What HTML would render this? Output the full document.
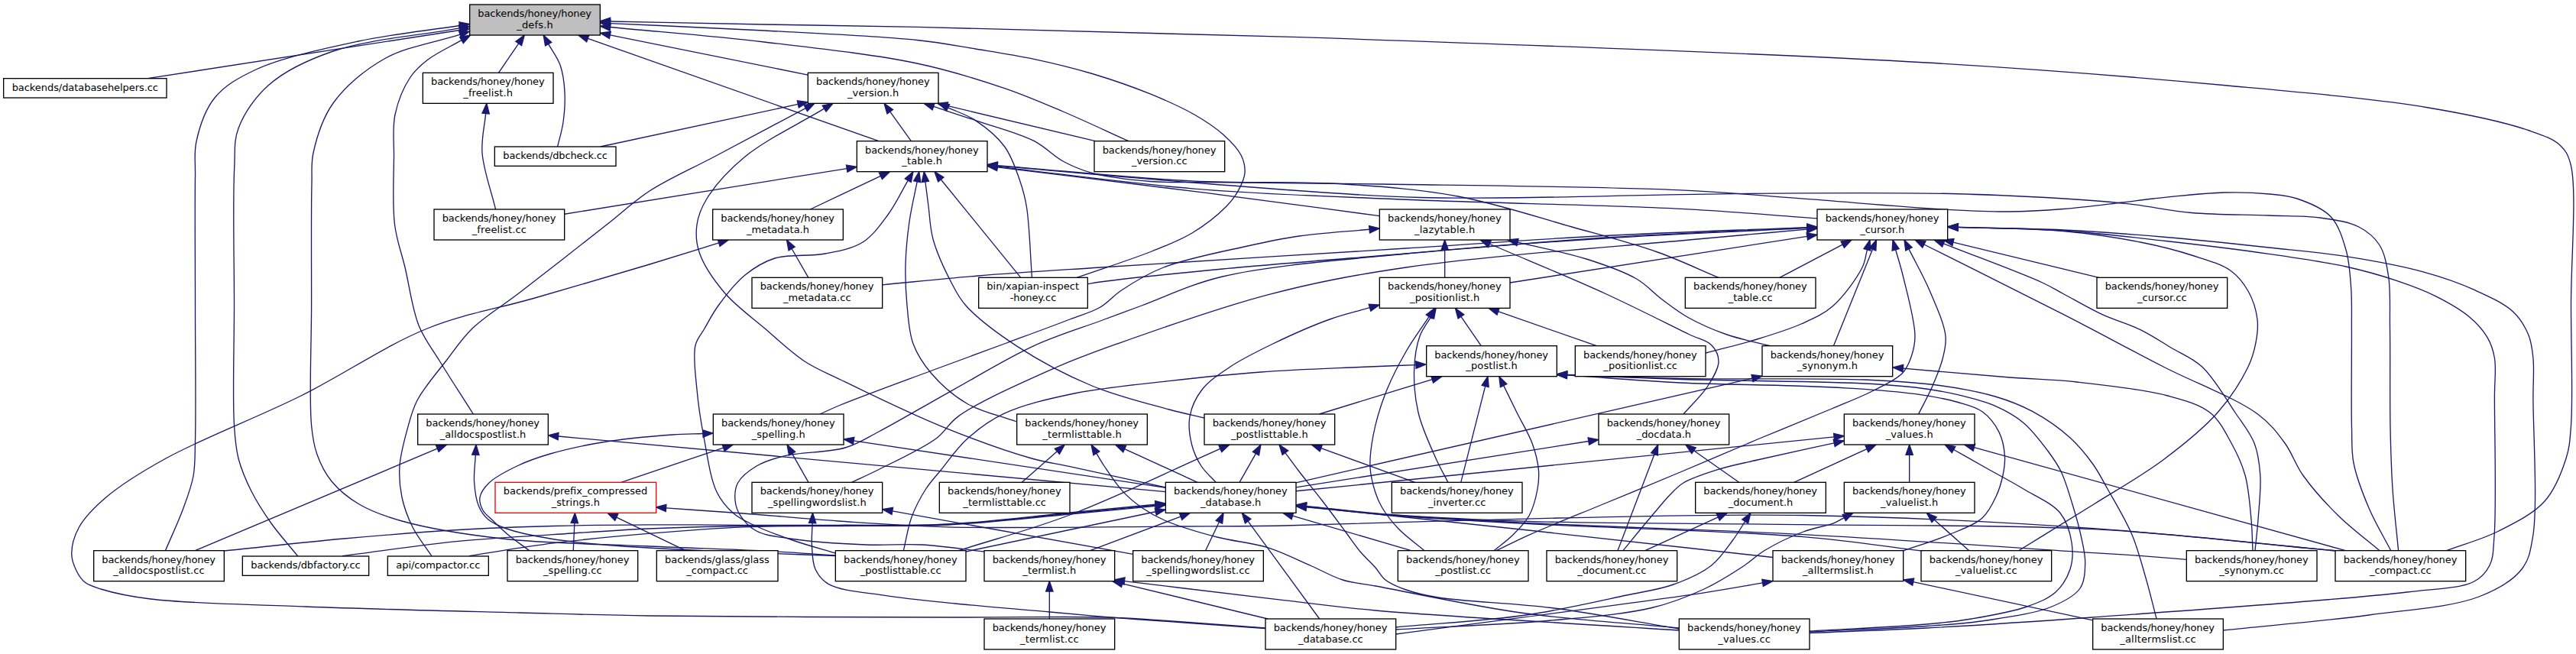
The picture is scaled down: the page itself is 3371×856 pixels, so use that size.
<!DOCTYPE html>
<html><head><meta charset="utf-8"><title>backends/honey/honey_defs.h</title>
<style>html,body{margin:0;padding:0;background:#fff}svg{display:block}text{font-family:"DejaVu Sans","Liberation Sans",sans-serif;font-size:13px;fill:#000}.e{fill:none;stroke:#191970;stroke-width:1.33}.a{fill:#191970;stroke:#191970;stroke-width:1.33}.n{fill:#fff;stroke:#000;stroke-width:1.33}</style></head>
<body><svg width="3371" height="856" viewBox="0 0 3371 856">
<rect width="3371" height="856" fill="#fff"/>
<g><path class="e" d="M717.68,57.61C722.79,66.74 729.46,74.98 733,85C736.77,95.66 738.27,107.9 739,120C739.77,132.85 738.75,147.48 737,160C735.42,171.34 732.06,181.33 729.6,192"/><polygon class="a" points="711.19,46 721.75,55.33 713.6,59.89"/>
<path class="e" d="M798.57,35.53C865.71,42.02 933.06,47.08 1000,55C1066.87,62.91 1142.9,70.95 1200,83C1243.88,92.26 1280.61,104 1314.7,115.6C1342.99,125.23 1364.93,134.95 1391,146C1418.94,157.84 1448.33,171.8 1477,184.7"/><polygon class="a" points="785.33,34.25 799.02,30.88 798.12,40.18"/>
<path class="e" d="M798.62,30.6C865.75,33.73 933,36.34 1000,40C1066.8,43.65 1149.14,47.1 1200,52.5C1231.6,55.86 1251.02,59.87 1276.5,64C1302.02,68.14 1327.61,71.91 1353,77.3C1378.58,82.73 1404.1,88.92 1429.4,96.5C1455.04,104.19 1482.4,113.66 1505.8,123.2C1526.48,131.63 1546.19,140.31 1563,150C1577.47,158.34 1590.75,167.06 1601.4,176.7C1610.65,185.07 1619.81,194.32 1624.3,203.5C1627.95,210.97 1629.57,218.84 1629,226.4C1628.41,234.14 1624.42,242.21 1620.5,249.4C1616.48,256.77 1612.15,262.74 1605,270C1594.37,280.8 1576.24,295.2 1560,305C1543.6,314.9 1527.57,320.76 1507,329C1479.53,340.01 1441.7,351.89 1409.06,363.33"/><polygon class="a" points="785.33,29.98 798.84,25.94 798.4,35.27"/>
<path class="e" d="M603.98,52.64C589.32,61.1 571.84,68.92 560,78C550.52,85.27 543.59,91.08 537,101C528.59,113.66 520.61,132.85 517,150C513.32,167.49 515.66,184.47 515.5,205C515.29,231.11 513.25,267.92 516.5,294C519.11,314.98 525.2,329.91 530,350C535.59,373.4 539.32,404.38 548,426C555.17,443.87 564.73,455.16 575,472C587.8,492.99 604.56,518.67 619.33,542"/><polygon class="a" points="615.5,46 606.31,56.69 601.65,48.6"/>
<path class="e" d="M601.56,33.53C557.37,40.35 513.03,44.55 469,54C424.17,63.62 368.73,75.32 335,91C311.85,101.76 294.05,112.01 281,128C268.32,143.54 261,166.77 257,185C253.59,200.56 255.83,210.19 255.5,230C254.86,268.5 255.5,342.76 255.5,400C255.5,458.4 256.58,537.17 255.5,577C254.95,597.32 255.66,608.17 253,623C250.41,637.48 245.42,650.16 240,665C233.65,682.4 224.31,702.11 216.46,720.67"/><polygon class="a" points="614.7,31.5 602.27,38.15 600.84,28.91"/>
<path class="e" d="M601.61,36.88C546.41,46.92 480.98,51.53 436,67C402.24,78.61 373.3,92.29 352,111C333.75,127.03 319.28,148.46 312,168C305.69,184.93 307.86,197.41 306.7,220C304.55,261.91 306.53,342.05 306.5,400C306.47,454.12 304.21,521.09 306.5,557C307.7,575.87 308.37,585.89 312,600C315.75,614.57 322,629.05 329,643C336.24,657.41 345.22,671.22 355,685C365.34,699.58 378.17,713.67 389.76,728"/><polygon class="a" points="614.7,34.5 602.45,41.47 600.78,32.29"/>
<path class="e" d="M602.04,45.08C569.03,55.72 531.43,61 503,77C476.76,91.77 451.67,113 436,135C422.07,154.56 414.23,180.63 410,200C406.8,214.65 408.47,222.21 408,240C407.07,275.55 407.67,346.92 407.6,400C407.53,452.58 404.28,522.59 407.6,557C409.25,574.09 410.66,582.91 415,595C419.4,607.26 425.4,619.51 434,630C443.33,641.38 455.9,651.65 470,660C485.97,669.46 503.03,675.54 526,682C560.15,691.6 608.93,699.56 657,705C714.94,711.56 789.71,712.23 850,715C903.14,717.44 955.92,718.7 1000,721C1034.79,722.81 1062.2,725 1093.3,727"/><polygon class="a" points="614.7,41 603.47,49.52 600.61,40.63"/>
<path class="e" d="M798.63,27.97C865.75,29.32 932.99,30.78 1000,32C1066.78,33.22 1118.33,33.53 1200,35.3C1329.15,38.1 1512.8,42.4 1700,48.7C1939.93,56.78 2297.1,68.94 2521,82C2676.27,91.06 2796.98,101 2915,112C3011.58,121 3105.58,128.82 3178,141C3229.8,149.71 3279.16,160.32 3310,171C3327.64,177.11 3340.84,181.44 3350,190C3357.37,196.89 3360.63,202.17 3364,215C3372.56,247.61 3364.42,340.86 3364.5,400C3364.57,454.48 3367.2,521.11 3364.5,557C3363.08,575.89 3362.72,585.11 3358,600C3352.34,617.87 3343.86,640.48 3330,656C3315.18,672.59 3291.28,684.25 3270,695C3248.48,705.87 3224.33,712.13 3201.5,720.7"/><polygon class="a" points="785.33,27.71 798.72,23.3 798.54,32.64"/>
<path class="e" d="M1054.26,141.55C1014.51,162.7 971.4,185.68 935,205C904.28,221.3 874.76,233.9 850,250C828.69,263.85 815.97,276.8 794,294C762.7,318.52 712.33,358.13 680,383C656.29,401.24 634.81,413.72 618,430C603.99,443.57 595.46,457.1 584,472C571.49,488.26 554.66,507.39 546,524C539.17,537.12 536.71,548.47 533,562C528.9,576.95 524.02,594.56 523,610C522.06,624.14 523.18,637.69 526,651C528.83,664.36 533.73,677.44 540,690C546.57,703.15 556.67,715.33 565,728"/><polygon class="a" points="1066,135.3 1056.45,145.67 1052.06,137.42"/>
<path class="e" d="M1078.63,142.19C1044.08,163.13 1002.1,182.68 975,205C953.77,222.48 935.5,242.92 925,260C917.65,271.95 913.66,282.31 912,294C910.35,305.65 910.82,317.38 915,330C920.5,346.59 934.3,366.77 948,383C962.6,400.29 983.29,414.83 1001,430C1018.29,444.81 1035.46,461.47 1053,473C1068.51,483.19 1080.27,487.41 1100,497C1132.69,512.89 1188.41,540.21 1231.5,557.8C1271.65,574.19 1318.66,591.11 1350,600C1369.98,605.67 1379.58,606.29 1400,610.7C1432.34,617.68 1483.53,628.9 1525.3,638"/><polygon class="a" points="1090,135.3 1081.05,146.19 1076.21,138.2"/>
<path class="e" d="M1240.56,140.9C1252.54,146.47 1264.89,149.93 1276.5,157.6C1289.72,166.34 1305.05,178.83 1314.7,192C1323.84,204.47 1328.93,220.34 1333.8,234C1338.17,246.27 1340.78,255.05 1343.3,270C1347.3,293.7 1348.08,332.22 1350.46,363.33"/><polygon class="a" points="1228.5,135.3 1242.53,136.67 1238.59,145.14"/>
<path class="e" d="M1221.63,139.47C1239.92,145.51 1256.73,150.87 1276.5,157.6C1299.92,165.57 1332.48,173.88 1353,184.4C1368.52,192.36 1377.92,203.89 1391,211C1403.3,217.69 1413.83,222.3 1429,226.4C1449.87,232.05 1480.36,235.5 1505.8,237.5C1530.68,239.46 1548.5,238.12 1580,238.5C1635.21,239.17 1721.77,239.67 1808,241C1921.07,242.74 2099.36,244.24 2200,248.8C2263.15,251.66 2299.41,255.72 2354,259.7C2416.02,264.22 2502.41,271.9 2552.7,274.6C2583.42,276.25 2602.35,277.19 2627,277C2651.44,276.81 2675.37,275.45 2700,273.5C2725.36,271.49 2755.35,267.51 2777,265C2792.81,263.16 2801.59,261.71 2818,260C2842.54,257.44 2882.58,252.73 2910,252C2932.11,251.41 2952.59,252.27 2970,254C2983.57,255.35 2993.75,255.83 3006,260C3020.32,264.87 3039.3,272.15 3050,283.5C3060.48,294.62 3065.55,311.59 3070,327C3074.6,342.93 3075.46,360.63 3076.7,377.7C3077.95,394.96 3077.25,408.66 3077.4,430C3077.64,463.64 3076.61,527.68 3077.5,560C3078.03,579.24 3076.9,589.94 3080,606C3083.6,624.68 3091.9,645.91 3100,665C3108.12,684.15 3119.13,702.13 3128.7,720.7"/><polygon class="a" points="1209,135.3 1223.09,135.04 1220.16,143.91"/>
<path class="e" d="M1305.05,217.13C1396.7,224.92 1488.06,233.62 1580,240.5C1672.38,247.42 1760.49,255.89 1858,258.5C1966.05,261.39 2108.44,255.77 2200,254.7C2261.44,253.98 2299.4,253.04 2354,252.8C2416.02,252.53 2494.21,252.22 2552.7,253.5C2598.98,254.51 2637.14,256.17 2677,258.5C2714.02,260.66 2750.54,263.07 2784,266.7C2813.75,269.93 2838.64,275.94 2868,278.5C2900.05,281.3 2938.78,280.8 2969,282C2993.62,282.98 3015.33,282.12 3036,285C3054.23,287.54 3073.2,290.01 3086.8,297C3098.05,302.79 3107.3,310.47 3113.7,320.5C3120.66,331.4 3123.06,345.53 3125.5,361C3128.62,380.78 3127.06,403.38 3127.5,430C3128.1,466.52 3127.21,521.91 3128,560C3128.62,589.89 3129.24,613.3 3131,640C3132.77,666.87 3136.07,693.8 3138.6,720.7"/><polygon class="a" points="1291.8,216 1305.45,212.47 1304.66,221.78"/>
<path class="e" d="M1305.02,218.09C1390.01,227.66 1473.45,239.68 1560,246.8C1649.34,254.15 1735.26,256.81 1833,261C1946.28,265.86 2099.56,268.21 2200,273.4C2270.05,277.02 2318.8,281.67 2378.2,285.8"/><polygon class="a" points="1291.8,216.6 1305.54,213.45 1304.49,222.73"/>
<path class="e" d="M1305.06,216.65C1390.04,223.4 1480.22,232.91 1560,236.9C1630.38,240.42 1697.54,237.07 1759,241C1812.33,244.41 1858.69,247.79 1908,257C1958.03,266.34 2010.94,284.04 2057,297C2097.07,308.28 2135.09,317.99 2169,330C2198.21,340.35 2222.33,352.2 2249,363.3"/><polygon class="a" points="1291.8,215.6 1305.43,212 1304.69,221.31"/>
<path class="e" d="M1200.21,237.72C1196.81,255.15 1192.52,272.21 1190,290C1187.41,308.28 1185.48,327.49 1185,346C1184.53,364.15 1185.27,382.4 1187,400C1188.67,417.04 1189.39,434.87 1195,450C1200.34,464.39 1208.5,476.78 1219,489C1231.05,503.03 1247.29,517.68 1265,528C1284.02,539.09 1308.53,544 1330.3,552"/><polygon class="a" points="1202.76,224.67 1204.79,238.62 1195.63,236.82"/>
<path class="e" d="M1210.9,237.86C1212.27,248.57 1213.47,258.51 1215,270C1216.78,283.3 1216.86,297.94 1221,313C1225.95,330.97 1236.8,354.3 1245,370C1251.22,381.9 1254.54,389.46 1264,400C1278.58,416.25 1304.91,436.17 1330,452.6C1358.9,471.53 1395.16,491 1429,505C1461.87,518.6 1502.77,528.57 1530,536C1548.22,540.97 1560.67,543.33 1576,547"/><polygon class="a" points="1209.22,224.67 1215.53,237.27 1206.27,238.45"/>
<path class="e" d="M1188.25,236.15C1179.5,251.1 1172.07,267.35 1162,281C1152.24,294.23 1142.44,308.52 1129,317C1115.23,325.69 1097.74,328.52 1080,332C1059.82,335.96 1032.61,332.2 1014,338C998.71,342.77 986.9,350.32 975,360C962.03,370.55 949.31,387.22 940,400C932.45,410.37 927.31,420.72 922,430C917.51,437.85 912.24,442.54 910,452C906.59,466.4 910.24,490.39 912,510C913.82,530.37 916.94,550.65 921,572C925.41,595.2 929.44,626.23 938,644C943.94,656.33 951.4,664.58 960,672C968.19,679.06 977,682.78 988,688C1002.46,694.86 1022.44,702 1040,708C1057.55,714 1075.53,718.67 1093.3,724"/><polygon class="a" points="1194.96,224.67 1192.28,238.5 1184.22,233.79"/>
<path class="e" d="M940.68,317.93C910.45,327.29 884.05,335.74 850,346C806.3,359.17 749.26,375.79 700,390C652.3,403.76 606.79,410.73 559,430C505.01,451.76 450.37,489.94 394,518C336.43,546.66 263.42,574.3 217,600C184.87,617.78 158.83,633.81 138.7,651C123.61,663.89 110.97,676.44 103.5,690C97.29,701.28 93.67,714.69 93.7,725C93.72,733.18 96.87,740.61 100,747C102.83,752.76 106.08,758.09 111,762C116.46,766.34 122.88,768.17 132,771C147.53,775.82 169.16,780.55 197,784C245.75,790.04 326.89,791.16 400,794C485.83,797.34 598.25,799.87 680,802C743.7,803.66 781.39,805.02 850,806C955.23,807.5 1139.7,807.72 1250,808C1327.79,808.19 1399.4,806.6 1449,808C1478.65,808.83 1492.54,810.22 1520,812C1557.98,814.47 1610.47,818.67 1655.7,822"/><polygon class="a" points="953.38,314 942.06,322.39 939.3,313.47"/>
<path class="e" d="M1985.96,317.14C2015.97,324.43 2048.63,330.3 2076,339C2099.88,346.59 2124.07,354.78 2141.6,365C2155.16,372.91 2163.16,383.04 2174.5,391.5C2185.96,400.05 2196.77,408.61 2210,416C2224.89,424.32 2242.46,431.92 2260,438C2278.37,444.37 2298.67,448 2318,453"/><polygon class="a" points="1973.04,314 1987.06,312.6 1984.86,321.68"/>
<path class="e" d="M1792.06,300.26C1761.37,303.17 1728.2,304.95 1700,309C1675.72,312.49 1657.79,316.39 1632.7,322C1600.4,329.22 1552.42,338.3 1522.6,350C1500.44,358.69 1482.36,370.12 1467.5,380C1456.37,387.4 1450.54,395.86 1440,402C1428.34,408.79 1415.78,411.9 1400,418C1377.37,426.75 1345.9,438.28 1317,449C1285.47,460.7 1252.42,472.66 1218,485.5C1180.37,499.53 1125.36,519.59 1100,530C1087.73,535.04 1082,538 1073,542"/><polygon class="a" points="1805.3,299 1792.5,304.91 1791.62,295.61"/>
<path class="e" d="M1949.4,319.25C1999.6,340.84 2053.96,362.92 2100,384C2139.77,402.21 2184.84,425.3 2210,437.5C2223.13,443.87 2233.49,445.19 2240,452C2245.39,457.64 2249.03,465.27 2249,473C2248.96,482.55 2241.66,494.45 2235,505C2227.12,517.49 2213.67,529.67 2203,542"/><polygon class="a" points="1937.19,314 1951.25,314.96 1947.56,323.54"/>
<path class="e" d="M2364.91,297.55C2276.61,301.2 2187.87,303.9 2100,308.5C2012.9,313.06 1935.97,318.96 1840,325C1720.97,332.5 1543.31,343.22 1440,350C1374.65,354.29 1330.05,356.92 1280,361C1235.66,364.61 1196.47,368.87 1154.7,372.8"/><polygon class="a" points="2378.2,297 2365.1,302.22 2364.72,292.88"/>
<path class="e" d="M2364.92,298.14C2276.61,302.43 2187.85,305.32 2100,311C2012.88,316.63 1924.93,325.03 1840,332C1758.4,338.7 1671.88,345.19 1600,352C1541.24,357.57 1466,365.5 1440,369C1431.58,370.13 1428.89,370.81 1423.33,371.71"/><polygon class="a" points="2378.2,297.5 2365.14,302.81 2364.69,293.48"/>
<path class="e" d="M2364.92,298.67C2276.61,303.11 2187.86,306.41 2100,312C2012.89,317.54 1924.86,323.44 1840,332C1758.22,340.25 1662.93,346.88 1599.7,362C1556.64,372.29 1523.35,389.29 1494,400C1472.98,407.67 1460.13,412.5 1440,420C1414.43,429.52 1383.09,438.83 1353,452.6C1318.31,468.48 1279.45,492.49 1244.6,511.8C1211.94,529.9 1175.76,551.63 1150,565C1132.74,573.96 1123.27,580.86 1106,586C1083.92,592.57 1048.18,591.41 1027,596.6C1012.12,600.25 1000.54,603.67 990,610C980.37,615.78 970.09,623.7 965.6,632C961.82,638.98 961.36,647.71 962,655C962.6,661.87 964.77,668.45 968.7,674.6C973.39,681.94 980.77,690.04 990,695C1001.41,701.14 1016.28,702.29 1034,705C1060.29,709.03 1102.37,711.76 1133,713C1159.44,714.07 1181.83,711.6 1207,713C1233.38,714.46 1260.87,719 1287.8,722"/><polygon class="a" points="2378.2,298 2365.15,303.33 2364.68,294"/>
<path class="e" d="M2364.95,300.18C2313.3,304.79 2272.7,308.15 2210,314C2113.07,323.04 1941.05,335.13 1840,350C1769,360.45 1720.95,369.72 1660,385.6C1595.08,402.51 1513.6,431.63 1462,450C1428.34,461.98 1409.42,468.7 1379.4,482C1341.69,498.71 1280.85,525.62 1254.5,544.6C1240.11,554.96 1238.01,564.33 1225,574C1206.26,587.93 1169.6,604.6 1149,615C1135.21,621.96 1125.67,626 1114,631.5"/><polygon class="a" points="2378.2,299 2365.37,304.83 2364.54,295.53"/>
<path class="e" d="M2443.44,326.81C2441.29,334.54 2441.35,341.25 2437,350C2429.89,364.29 2412.6,388.33 2398,401C2385.51,411.84 2372.37,417.11 2357,424C2339,432.07 2316.67,438.69 2296,445C2275.11,451.38 2253.53,456.33 2232.3,462"/><polygon class="a" points="2447,314 2447.94,328.06 2438.94,325.56"/>
<path class="e" d="M2480.62,326.8C2483.74,337.87 2486.74,346.46 2490,360C2495.02,380.82 2506,419.74 2506,440C2506,452.4 2503.26,461.37 2500,470C2497.24,477.31 2494.88,483.07 2489,489C2480.56,497.51 2464.24,504.75 2450,512C2433.91,520.19 2417.36,526.38 2397,535C2369.56,546.61 2332.54,561.38 2300,575C2266.88,588.86 2233.36,603.49 2200,617.5C2166.7,631.49 2133.33,645.15 2100,659C2066.66,672.85 2026.03,688.92 2000,700.6C1982.98,708.24 1972.2,714 1958.3,720.7"/><polygon class="a" points="2477,314 2485.11,325.53 2476.12,328.07"/>
<path class="e" d="M2497.95,325.9C2506.97,343.93 2517.06,361.24 2525,380C2533.14,399.23 2544.29,423.26 2546,440C2547.18,451.55 2544.57,459.71 2542,470C2539.12,481.54 2533.83,493.89 2528.7,505.7C2523.41,517.89 2516.63,529.9 2510.6,542"/><polygon class="a" points="2492,314 2502.12,323.81 2493.77,327.98"/>
<path class="e" d="M2517.89,319.97C2578.59,350.45 2644.4,382.89 2700,411.4C2747.37,435.69 2787.88,457.89 2831,480C2872.68,501.37 2926.89,521.34 2954.5,542C2971.44,554.67 2980.02,566.38 2990,580C2999.61,593.12 3003.59,607.72 3013.7,622C3025.91,639.25 3043.31,658.57 3060,675C3076.74,691.47 3096,705.47 3114,720.7"/><polygon class="a" points="2506,314 2519.98,315.79 2515.79,324.14"/>
<path class="e" d="M2543.37,318.89C2586.48,335.93 2645.77,357.57 2672.7,370C2685.4,375.86 2689.51,378.92 2700,384.5C2714.27,392.09 2733.45,403.48 2750.5,411.4C2767.13,419.13 2785.41,423.97 2801,431.6C2815.39,438.64 2827.66,446.99 2841,455C2854.53,463.12 2868.92,468.23 2881.6,480C2897.4,494.67 2912.77,521.83 2925,540C2934.76,554.5 2944.54,565.96 2950,580C2955.2,593.36 2956.77,606.81 2957.8,622C2959,639.71 2956.29,662.39 2955,680C2953.92,694.78 2952.33,707.13 2951,720.7"/><polygon class="a" points="2531,314 2545.09,314.55 2541.65,323.23"/>
<path class="e" d="M2562.29,297.21C2608.19,298.97 2657.74,298.67 2700,302.5C2736.36,305.8 2770.92,311.04 2801,317C2825.76,321.9 2847.43,327.35 2868,334C2886.25,339.9 2905.73,344.88 2918.6,354C2929.03,361.39 2936.14,370.62 2942,381C2948.11,391.83 2952.52,406.14 2954,418C2955.31,428.5 2953.9,438.28 2952,448.4C2950.01,458.95 2947.64,468.24 2942,480C2933.68,497.34 2918.84,520.88 2902,540C2882.64,561.99 2856.11,582.99 2830,602.5C2802.36,623.15 2770.75,640.7 2740,660C2708.01,680.08 2674.4,700.47 2641.6,720.7"/><polygon class="a" points="2549,296.7 2562.47,292.54 2562.11,301.88"/>
<path class="e" d="M2562.29,297.44C2608.2,298.96 2654.42,298.96 2700,302C2745.15,305.01 2789.7,310.45 2834.5,315.5C2879.36,320.55 2927.43,326.27 2969,332.3C3005.13,337.54 3039.93,342.36 3070,349C3094.78,354.47 3116.39,360.66 3137,367.6C3155.26,373.75 3171.75,379.79 3187.7,387.8C3203.16,395.57 3219.64,404.77 3231.4,414.7C3241.22,422.99 3249.43,432.06 3255,441.6C3259.97,450.11 3262.6,457.91 3264.4,468.5C3266.82,482.74 3264.42,497.59 3264.4,520C3264.35,562.13 3267.02,664.02 3264,702C3262.61,719.46 3263.08,729.81 3258,740C3253.57,748.88 3248.11,755.58 3237.7,761C3219.55,770.46 3190.14,770.2 3150,775C3063.41,785.36 2853.54,799.65 2738,808C2654.2,814.06 2587.05,818.47 2521,822C2465.57,824.96 2419,826.33 2368,828.5"/><polygon class="a" points="2549,297 2562.45,292.77 2562.14,302.11"/>
<path class="e" d="M2562.3,297.63C2608.2,298.75 2654.39,298.83 2700,301C2745.12,303.15 2789.69,306.67 2834.5,310.5C2879.36,314.33 2927.39,319.5 2969,324C3005.09,327.9 3036.44,330.41 3070,335.7C3103.78,341.02 3141.03,347.69 3171,355.9C3195.88,362.72 3217.6,370.15 3238,379.4C3256.45,387.77 3276.4,396.67 3288.6,408C3298.26,416.97 3304.42,427.76 3308.8,438.3C3312.83,447.99 3313.75,457.03 3314.9,468.5C3316.38,483.33 3314.92,497.59 3314.9,520C3314.87,562.13 3321.13,662.65 3314.6,702C3311.34,721.65 3309.64,732.67 3300,745C3288.33,759.93 3268.21,771.66 3244,781C3208.15,794.83 3151.46,798.02 3100,805C3041.07,813 2973.07,818.33 2909.6,825"/><polygon class="a" points="2549,297.3 2562.41,292.96 2562.18,302.29"/>
<path class="e" d="M1792.53,402.72C1775.02,407.81 1758.8,411.25 1740,418C1717.14,426.21 1688.47,438.99 1665.7,450C1645.57,459.73 1626.24,469.18 1610,480C1595.91,489.39 1581.96,498.43 1573,510C1564.94,520.4 1559.2,532.88 1557,545C1554.84,556.9 1556.8,570.75 1559.6,582C1562.14,592.23 1566.6,601.66 1572,610C1577.24,618.1 1584.87,624.33 1591.3,631.5"/><polygon class="a" points="1805.3,399 1793.83,407.2 1791.22,398.23"/>
<path class="e" d="M1872.49,414.86C1867.66,423.24 1861.55,430.19 1858,440C1853.69,451.89 1851.31,466.83 1850.7,482C1849.98,499.73 1851.54,520.81 1856,540C1860.69,560.16 1871.61,583.35 1879,600C1884.48,612.34 1889.67,621 1895,631.5"/><polygon class="a" points="1879.14,403.33 1876.54,417.19 1868.45,412.52"/>
<path class="e" d="M1870.12,414.43C1860.08,429.62 1849.29,443.78 1840,460C1830.16,477.18 1820.23,496.35 1813,515C1806.01,533.03 1800.3,552.75 1797,570C1794.17,584.8 1792.25,598.9 1793,612C1793.67,623.72 1796.97,635.64 1800,645C1802.37,652.34 1804.42,657.31 1808.4,664C1813.59,672.73 1821.43,683.05 1830,692C1839.61,702.04 1852.67,711.13 1864,720.7"/><polygon class="a" points="1877.45,403.33 1874.01,417 1866.22,411.85"/>
<path class="e" d="M1852.91,477.54C1828.61,478.53 1807.79,479.24 1780,480.5C1742.88,482.18 1692.43,483.89 1650,487C1609.16,489.99 1570.31,493.99 1530,498.6C1488.89,503.3 1443.75,507.08 1405.7,515C1372.45,521.92 1338.76,529.55 1313.7,541.4C1294,550.72 1278.99,562.25 1265,575C1251.86,586.97 1241.16,603.17 1231.5,615C1223.94,624.26 1217.69,630.52 1211.6,640C1204.69,650.76 1197.83,663.61 1193,676.7C1187.93,690.43 1185.87,706.03 1182.3,720.7"/><polygon class="a" points="1866.2,477 1853.1,482.21 1852.72,472.87"/>
<path class="e" d="M1967.66,504.61C1973.44,516.41 1978.99,527.85 1985,540C1991.4,552.94 2000.2,566.84 2005,580C2009.3,591.81 2012.43,604.25 2013.4,615C2014.21,623.97 2013.63,631.08 2012,640C2010.03,650.8 2006.6,664.79 2001,675C1995.72,684.63 1987.68,692.37 1980,700C1972.34,707.6 1963.33,713.8 1955,720.7"/><polygon class="a" points="1961.8,492.67 1971.85,502.55 1963.46,506.66"/>
<path class="e" d="M2050.57,490.9C2100.05,494.27 2149.45,498.65 2199,501C2248.6,503.35 2304.3,503.37 2348,505C2382.35,506.28 2411.09,507.27 2440,509.4C2465.87,511.3 2491.48,513.42 2513.4,516.7C2531.42,519.4 2547.92,522.32 2562.3,526.5C2574.17,529.95 2585.08,532.25 2594,538.7C2603.02,545.23 2611.08,555.64 2616,565.6C2620.77,575.26 2622.85,587.43 2623.5,597.4C2624.07,606.08 2622.75,613.63 2621,622C2619.09,631.13 2616.28,640.94 2612,650C2607.45,659.64 2602.74,670.16 2594,678C2583.38,687.54 2566.02,693.21 2550,700C2531.84,707.7 2510.2,714 2490.3,721"/><polygon class="a" points="2037.3,490 2050.89,486.24 2050.25,495.56"/>
<path class="e" d="M2050.59,490.99C2100.39,492.83 2144.32,494.84 2200,496.5C2270.56,498.61 2383.16,499.02 2440,502C2471.4,503.65 2491.14,505.17 2513,508C2531.02,510.33 2545.78,512.84 2562,516.7C2578.45,520.61 2596.17,524.89 2611,531.4C2624.6,537.38 2636.82,544.04 2648,553.4C2659.86,563.32 2671.05,578.43 2679.7,590C2686.74,599.42 2691.95,606.62 2697,617C2703.02,629.37 2707.52,645.42 2712,660C2716.53,674.75 2721.16,691.2 2724,705C2726.37,716.5 2728.99,726.28 2728.7,737C2728.4,747.94 2728.22,760.87 2722,770C2714.88,780.45 2700.6,787.55 2685,794C2663.1,803.05 2627.94,807.73 2600,812C2573.3,816.08 2551.68,817.29 2521,819.5C2478.38,822.57 2419,824.5 2368,827"/><polygon class="a" points="2037.3,490.5 2050.76,486.32 2050.42,495.66"/>
<path class="e" d="M2050.59,490.45C2100.39,492.13 2144.32,494.38 2200,495.5C2270.56,496.91 2377.67,494.42 2440,497C2479.86,498.65 2507.76,500.37 2537.9,504.5C2564.16,508.1 2589.33,512.56 2611,519C2629.24,524.42 2644.14,530.11 2660,538.7C2676.87,547.84 2695.34,560.69 2709,573C2720.85,583.68 2730.12,595.36 2738.5,607C2746.24,617.74 2750.85,627.28 2758,640C2767.52,656.94 2781.57,680.05 2790,700C2797.77,718.38 2802.24,736.64 2807.6,755C2812.9,773.14 2817.2,791.33 2822,809.5"/><polygon class="a" points="2037.3,490 2050.75,485.78 2050.43,495.12"/>
<path class="e" d="M2490.35,482.13C2536.9,486.08 2588.79,490.84 2630,494C2662.69,496.5 2686.56,496.55 2718,500C2754.67,504.03 2804.89,509.42 2836.6,518C2858.95,524.05 2877.81,528.78 2892,540C2904.84,550.15 2912.26,566.09 2920,580C2927.49,593.46 2933.71,606.56 2938,622C2942.86,639.48 2944.35,662.34 2946,680C2947.38,694.73 2947.33,707.13 2948,720.7"/><polygon class="a" points="2477.1,481 2490.75,477.47 2489.96,486.78"/>
<path class="e" d="M622.35,595.28C621.77,607.19 619.79,619.47 620.6,631C621.37,642.01 622.96,654.33 626.7,663C629.7,669.96 633.5,675.33 639,680C645.21,685.28 653.03,688.43 663,692C677.71,697.27 699.55,701.53 720,705C743.34,708.96 765.98,711.01 795.7,713.5C838.03,717.04 899.51,719.64 950,722C998.64,724.27 1045.53,725.67 1093.3,727.5"/><polygon class="a" points="623,582 627.01,595.51 617.68,595.06"/>
<path class="e" d="M919.91,567.5C906.61,568 896.03,567.83 880,569C855.56,570.78 815.97,574.35 787.7,579C763.27,583.02 739.77,588.22 720,594C704.05,598.66 691.02,603.1 677.6,609.5C664.38,615.8 648.48,623.72 640,632C633.92,637.93 629.07,644.62 628,651C627.06,656.63 629.28,663.03 632,668C634.77,673.06 639.83,676.32 644.6,681C650.52,686.8 657.49,693.74 665,700C673.38,706.99 683.53,713.8 692.8,720.7"/><polygon class="a" points="933.2,567 920.08,572.17 919.73,562.83"/>
<path class="e" d="M1434.9,593.37C1438.27,598.91 1440.76,603.64 1445,610C1451.11,619.17 1460.08,633.18 1468.8,642.6C1476.86,651.3 1485.71,658.55 1495,665C1504.1,671.31 1511.9,675.82 1523.9,681C1541.65,688.66 1569.86,697.01 1592.7,703C1614.75,708.78 1637.65,710.09 1658.6,716.6C1678.85,722.89 1698.95,733.4 1716.5,741C1731.24,747.38 1743.03,754.66 1757,759C1770.87,763.31 1780.57,763.4 1800,767C1840.83,774.56 1925.11,792.91 1990,802C2057.32,811.44 2128,815.33 2197,822"/><polygon class="a" points="1428,582 1438.89,590.95 1430.91,595.79"/>
<path class="e" d="M1681.93,592.68C1687.95,600.78 1693.14,608.05 1700,617C1708.67,628.32 1720.08,642.11 1730,655C1740.08,668.1 1751.03,682.96 1760,695C1767.36,704.87 1773.07,713.76 1780,722C1786.44,729.66 1794.16,736.37 1800,743C1804.92,748.59 1807.25,754.46 1813,759C1819.94,764.48 1829.79,768.37 1840,772C1852.26,776.35 1863.59,778.98 1882,782C1916.16,787.59 1979.3,789.02 2030,795.5C2084.11,802.41 2141.33,813.83 2197,823"/><polygon class="a" points="1674,582 1685.68,589.89 1678.18,595.46"/>
<path class="e" d="M2400.21,579.86C2366.71,587.24 2327.34,595.62 2299.7,602C2280.22,606.5 2266.18,608.97 2250,614C2233.95,618.99 2214.53,624.99 2203,632C2195.02,636.85 2190.47,642.49 2185,648C2179.86,653.18 2176.35,657.76 2171,664C2163.63,672.61 2153.17,685.13 2145,695C2137.6,703.94 2131,712.13 2124,720.7"/><polygon class="a" points="2413.2,577 2401.22,584.42 2399.21,575.3"/>
<path class="e" d="M2556.59,588.53C2571.06,596.69 2585.16,604.65 2600,613C2615.6,621.78 2632.16,630.36 2648,640C2664.17,649.84 2685.47,658.5 2696,671.5C2704.93,682.53 2708.98,697.25 2711,710C2712.86,721.74 2712.47,734.2 2709,745C2705.51,755.87 2698.8,767 2690,775C2680.42,783.7 2667.44,788.66 2652.5,794C2632.64,801.09 2603.01,806.1 2580,810C2559.41,813.48 2545.3,814.85 2521,817C2481.96,820.46 2419,823 2368,826"/><polygon class="a" points="2545,582 2558.88,584.46 2554.29,592.6"/>
<path class="e" d="M871.57,664.93C905.38,667.28 937.5,669.33 973,672C1012.27,674.95 1054.17,679.11 1097,682C1142.95,685.11 1183.58,688.34 1240,689.8C1321.66,691.92 1458.83,689.4 1540,689C1595.45,688.73 1622.52,689 1680,688C1772.19,686.39 1923.52,680.25 2040,678C2149.8,675.87 2248.78,672.59 2360,674.5C2481.26,676.58 2619.26,683.37 2740,691.7C2850.28,699.3 2950.67,711.23 3056,721"/><polygon class="a" points="858.3,664 871.89,660.27 871.24,669.58"/>
<path class="e" d="M1063.15,684.6C1062.9,694.2 1061.82,703.6 1062.4,713.4C1063.01,723.72 1062.91,736.2 1067,745C1070.72,753 1075.43,759.5 1084.5,764.7C1099.8,773.48 1132.04,775.32 1158,779.4C1186.86,783.94 1217.03,786.64 1250,790C1288.23,793.9 1336.32,797.68 1374,801C1405.56,803.78 1431.83,806.28 1461,808.6C1490.49,810.95 1519.06,812.79 1550,815C1583.72,817.41 1620.47,820 1655.7,822.5"/><polygon class="a" points="1063.5,671.3 1067.82,684.72 1058.48,684.47"/>
<path class="e" d="M1512.06,660.27C1474.71,663.85 1440.67,667.15 1400,671C1351.4,675.6 1291.89,683.34 1240,686C1191.05,688.51 1142.97,687.09 1097,687.3C1054.19,687.49 1014.42,687.38 973,687.3C931.42,687.22 889.58,686.6 848,686.8C806.58,687 765.33,687.38 724,688.5C682.66,689.62 643.27,690.97 600,693.5C552.35,696.29 500.52,700.49 450,705C398.31,709.62 345.53,715.67 293.3,721"/><polygon class="a" points="1525.3,659 1512.51,664.92 1511.62,655.62"/>
<path class="e" d="M1512.06,661.27C1474.71,664.85 1440.68,668.21 1400,672C1351.41,676.53 1291.89,683.88 1240,686.5C1191.05,688.97 1142.97,687.67 1097,688C1054.19,688.31 1014.41,687.84 973,688.5C931.41,689.17 889.57,690.13 848,692C806.57,693.87 765.33,696.97 724,699.7C682.66,702.43 643.37,704.14 600,708.4C551.85,713.13 498.67,721.2 448,727.6"/><polygon class="a" points="1525.3,660 1512.51,665.92 1511.62,656.62"/>
<path class="e" d="M1512.06,662.27C1474.71,665.85 1440.68,669.27 1400,673C1351.41,677.45 1291.88,684.46 1240,687C1191.04,689.4 1142.97,688.02 1097,688.5C1054.19,688.95 1014.39,688.16 973,689.8C931.39,691.45 889.56,694.88 848,698.4C806.56,701.91 764.03,705.85 724,710.9C686.17,715.67 650.67,722.03 614,727.6"/><polygon class="a" points="1525.3,661 1512.51,666.92 1511.62,657.62"/>
<path class="e" d="M1709.23,663.32C1746.49,667.05 1779.34,671.13 1821,674.5C1873.64,678.76 1930,681.77 2000,685.6C2099.23,691.03 2265.15,694.83 2360,702.7C2422.28,707.87 2462.87,714.9 2514.3,721"/><polygon class="a" points="1696,662 1709.7,658.68 1708.77,667.97"/>
<path class="e" d="M1709.23,662.82C1746.49,666.55 1779.34,670.7 1821,674C1873.64,678.17 1930,680.98 2000,684.5C2099.23,689.49 2238.41,693.21 2360,699.6C2484.99,706.17 2667.96,719.04 2740,723.6C2768.63,725.41 2779.88,725.96 2800,727.4C2820.38,728.86 2841,730.67 2861.5,732.3"/><polygon class="a" points="1696,661.5 1709.7,658.18 1708.77,667.47"/>
<path class="e" d="M1709.23,662.32C1746.49,666.05 1779.33,670.38 1821,673.5C1873.63,677.44 1929.99,680.24 2000,682.4C2099.23,685.46 2238.38,685.01 2360,686.7C2484.96,688.43 2619.28,686.41 2740,692.7C2850.3,698.45 2950.67,711.37 3056,720.7"/><polygon class="a" points="1696,661 1709.7,657.68 1708.77,666.97"/>
<path class="e" d="M2283.71,682.42C2278.34,690.62 2274.01,698.41 2267.6,707C2259.83,717.42 2251.48,730.71 2239.7,740C2226.33,750.54 2207.85,758.58 2190,765C2171.02,771.83 2153.04,773.82 2128.7,779C2093.14,786.57 2043.9,798.19 1997,805C1944.06,812.69 1883.47,815.67 1826.7,821"/><polygon class="a" points="2291,671.3 2287.61,684.98 2279.8,679.86"/>
<path class="e" d="M2413.26,677.55C2408.84,679.9 2405.77,682.27 2400,684.6C2390.4,688.47 2373.84,690.75 2360,696C2344.01,702.06 2324.22,711.48 2310,720C2298.36,726.98 2291.5,734.48 2280,742C2265.66,751.37 2248.4,762.46 2230,771C2209.37,780.58 2188.51,789.08 2161.6,795.5C2125.24,804.18 2078.7,807.51 2030,812C1969.65,817.56 1894.47,820 1826.7,824"/><polygon class="a" points="2425,671.3 2415.45,681.67 2411.06,673.42"/>
<path class="e" d="M1471.51,760.58C1541,768.92 1620.03,778.65 1680,785.6C1725.48,790.87 1748.31,794.42 1800,799C1893.82,807.31 2064.67,816.33 2197,825"/><polygon class="a" points="1458.3,759 1472.06,755.95 1470.95,765.22"/>
<path class="e" d="M601.56,39.53L193.25,102.67"/><polygon class="a" points="614.7,37.5 602.27,44.15 600.84,34.92"/>
<path class="e" d="M635.66,148.58C634.1,165.72 629.67,181.42 631,200C632.61,222.55 642.72,249.33 648.58,274"/><polygon class="a" points="636.86,135.33 640.31,149 631.01,148.16"/>
<path class="e" d="M1596.83,587.36C1531.22,616.24 1461.24,650.77 1400,674C1348.36,693.59 1302.93,705.13 1254.4,720.7"/><polygon class="a" points="1609,582 1598.71,591.63 1594.95,583.08"/>
<path class="e" d="M1512.29,669.74L1264.2,722"/><polygon class="a" points="1525.3,667 1513.25,674.31 1511.32,665.17"/>
<path class="e" d="M2306.58,762.91C2281.06,767.21 2265.62,770.41 2230,775.8C2148.46,788.14 1961.13,811.93 1826.7,830"/><polygon class="a" points="2319.7,760.7 2307.36,767.51 2305.81,758.3"/>
<path class="e" d="M2555.93,317.13L2746.74,363.33"/><polygon class="a" points="2543,314 2557.03,312.59 2554.83,321.67"/>
<path class="e" d="M2450.51,326.33L2399.42,452.67"/><polygon class="a" points="2455.5,314 2454.84,328.08 2446.18,324.58"/>
<path class="e" d="M2411.22,320.17L2328.84,363.33"/><polygon class="a" points="2423,314 2413.39,324.31 2409.05,316.04"/>
<path class="e" d="M1305,218.83C1396.67,230.12 1492.92,241.55 1580,252.7C1658.87,262.8 1730.22,272.67 1805.33,282.66"/><polygon class="a" points="1291.8,217.2 1305.57,214.19 1304.43,223.46"/>
<path class="e" d="M1709.23,663.82C1746.49,667.55 1779.39,670.71 1821,675C1873.68,680.43 1931.75,686.59 2000,694C2091.23,703.91 2213.13,717.67 2319.7,729.5"/><polygon class="a" points="1696,662.5 1709.7,659.18 1708.77,668.47"/>
<path class="e" d="M678.74,56.96L652.4,95.33"/><polygon class="a" points="686.27,46 682.59,59.61 674.89,54.32"/>
<path class="e" d="M798.37,45.85L1057.33,98.11"/><polygon class="a" points="785.33,43.22 799.29,41.27 797.45,50.43"/>
<path class="e" d="M769.26,50.42L1149.95,184.67"/><polygon class="a" points="756.72,46 770.81,46.02 767.71,54.83"/>
<path class="e" d="M1044.33,136.45L785.65,192"/><polygon class="a" points="1057.33,133.66 1045.31,141.02 1043.35,131.88"/>
<path class="e" d="M1164.74,146.15L1192.34,184.67"/><polygon class="a" points="1157,135.33 1168.54,143.43 1160.94,148.86"/>
<path class="e" d="M1239.48,138.42L1433.45,184.67"/><polygon class="a" points="1226.55,135.33 1240.57,133.88 1238.4,142.96"/>
<path class="e" d="M1108.2,220.56L738.67,280.22"/><polygon class="a" points="1121.33,218.44 1108.95,225.17 1107.46,215.95"/>
<path class="e" d="M1152.41,230.36L1060.24,274"/><polygon class="a" points="1164.43,224.67 1154.41,234.58 1150.41,226.14"/>
<path class="e" d="M1231.33,234.98L1335.73,363.33"/><polygon class="a" points="1222.94,224.67 1234.95,232.04 1227.71,237.93"/>
<path class="e" d="M1036.12,325.53L1057.84,363.33"/><polygon class="a" points="1029.49,314 1040.17,323.2 1032.07,327.86"/>
<path class="e" d="M1890.67,327.3L1890.67,363.33"/><polygon class="a" points="1890.67,314 1895.34,327.3 1886,327.3"/>
<path class="e" d="M2364.86,309.36L1976,370.02"/><polygon class="a" points="2378,307.31 2365.58,313.98 2364.14,304.75"/>
<path class="e" d="M1911.93,414.3L1938.27,452.67"/><polygon class="a" points="1904.4,403.33 1915.78,411.65 1908.08,416.94"/>
<path class="e" d="M1960.54,407.72L2089.35,452.67"/><polygon class="a" points="1947.98,403.33 1962.08,403.31 1959,412.12"/>
<path class="e" d="M1874.21,496.57L1726.41,542"/><polygon class="a" points="1886.93,492.67 1875.58,501.04 1872.84,492.11"/>
<path class="e" d="M1943.65,505.56L1911.74,631.33"/><polygon class="a" points="1946.93,492.67 1948.18,506.71 1939.13,504.41"/>
<path class="e" d="M2293.04,495.16L1696,631.8"/><polygon class="a" points="2306,492.2 2294.08,499.72 2291.99,490.61"/>
<path class="e" d="M572.28,587.16L255.46,720.67"/><polygon class="a" points="584.54,582 574.09,591.47 570.47,582.86"/>
<path class="e" d="M730.58,571L1525.33,643.54"/><polygon class="a" points="717.33,569.79 731,566.35 730.15,575.65"/>
<path class="e" d="M946.66,586.24L812.74,631.33"/><polygon class="a" points="959.26,582 948.15,590.67 945.17,581.82"/>
<path class="e" d="M1036.57,593.57L1057.99,631.33"/><polygon class="a" points="1030.01,582 1040.63,591.26 1032.51,595.87"/>
<path class="e" d="M1117.15,576.86L1525.33,638.46"/><polygon class="a" points="1104,574.88 1117.85,572.24 1116.45,581.48"/>
<path class="e" d="M1383.34,590.8L1337.35,631.33"/><polygon class="a" points="1393.31,582 1386.43,594.3 1380.25,587.29"/>
<path class="e" d="M1471.67,587.55L1567.08,631.33"/><polygon class="a" points="1459.58,582 1473.62,583.3 1469.72,591.79"/>
<path class="e" d="M1643.43,593.57L1622.01,631.33"/><polygon class="a" points="1649.99,582 1647.49,595.87 1639.37,591.26"/>
<path class="e" d="M1728.76,586.55L1851.74,631.33"/><polygon class="a" points="1716.26,582 1730.35,582.16 1727.16,590.94"/>
<path class="e" d="M2078.86,577.52L1696,637.88"/><polygon class="a" points="2092,575.45 2079.59,582.14 2078.14,572.91"/>
<path class="e" d="M2216.56,589.67L2275.64,631.33"/><polygon class="a" points="2205.69,582 2219.25,585.85 2213.87,593.48"/>
<path class="e" d="M2164.99,594.43L2116.95,720.67"/><polygon class="a" points="2169.72,582 2169.36,596.09 2160.63,592.77"/>
<path class="e" d="M2400.1,571.92L1696,642.75"/><polygon class="a" points="2413.33,570.58 2400.57,576.56 2399.63,567.27"/>
<path class="e" d="M2443,587.55L2347.58,631.33"/><polygon class="a" points="2455.08,582 2444.94,591.79 2441.05,583.3"/>
<path class="e" d="M2498.67,595.3L2498.67,631.33"/><polygon class="a" points="2498.67,582 2503.34,595.3 2494,595.3"/>
<path class="e" d="M2583.42,585.56L3069.39,720.67"/><polygon class="a" points="2570.61,582 2584.67,581.06 2582.17,590.06"/>
<path class="e" d="M751.84,684.62L750.23,720.67"/><polygon class="a" points="752.44,671.33 756.51,684.83 747.18,684.41"/>
<path class="e" d="M806.81,677.11L897.17,720.67"/><polygon class="a" points="794.83,671.33 808.83,672.9 804.78,681.32"/>
<path class="e" d="M1167.76,668.97L1482.67,725.38"/><polygon class="a" points="1154.67,666.62 1168.58,664.37 1166.93,673.56"/>
<path class="e" d="M1545.08,676.02L1426.47,720.67"/><polygon class="a" points="1557.53,671.33 1546.73,680.39 1543.44,671.65"/>
<path class="e" d="M1595.38,683.33L1577.55,720.67"/><polygon class="a" points="1601.11,671.33 1599.6,685.35 1591.17,681.32"/>
<path class="e" d="M1633.14,682.07L1726.71,810"/><polygon class="a" points="1625.29,671.33 1636.91,679.31 1629.38,684.83"/>
<path class="e" d="M1691.49,675.08L1846.61,720.67"/><polygon class="a" points="1678.73,671.33 1692.8,670.6 1690.17,679.56"/>
<path class="e" d="M2248.33,676.88L2152.92,720.67"/><polygon class="a" points="2260.42,671.33 2250.28,681.12 2246.38,672.64"/>
<path class="e" d="M2531.15,680.16L2576.8,720.67"/><polygon class="a" points="2521.2,671.33 2534.25,676.67 2528.05,683.65"/>
<path class="e" d="M1373.33,773.97L1373.33,810"/><polygon class="a" points="1373.33,760.67 1378,773.97 1368.66,773.97"/>
<path class="e" d="M1468.65,763.8L1658.95,810"/><polygon class="a" points="1455.72,760.67 1469.75,759.27 1467.54,768.34"/>
<path class="e" d="M2503.67,761.65L2738.67,811.79"/><polygon class="a" points="2490.67,758.87 2504.65,757.08 2502.7,766.22"/></g>
<g><g><rect x="614.67" y="6" width="170.67" height="40" fill="#bfbfbf" stroke="#000" stroke-width="1.33"/><text x="625.33" y="22" textLength="148.67">backends/honey/honey</text><text x="700" y="36.67" text-anchor="middle" textLength="47.33">_defs.h</text></g>
<g><rect x="4.67" y="102.67" width="213.33" height="25.33" fill="#fff" stroke="#000" stroke-width="1.33"/><text x="111.33" y="118.67" text-anchor="middle" textLength="191.33">backends/databasehelpers.cc</text></g>
<g><rect x="553.33" y="95.33" width="170.67" height="40" fill="#fff" stroke="#000" stroke-width="1.33"/><text x="564" y="111.33" textLength="148.67">backends/honey/honey</text><text x="638.67" y="126" text-anchor="middle" textLength="64.67">_freelist.h</text></g>
<g><rect x="1057.33" y="95.33" width="170.67" height="40" fill="#fff" stroke="#000" stroke-width="1.33"/><text x="1068" y="111.33" textLength="148.67">backends/honey/honey</text><text x="1142.67" y="126" text-anchor="middle" textLength="67.33">_version.h</text></g>
<g><rect x="647.33" y="192" width="158.67" height="25.33" fill="#fff" stroke="#000" stroke-width="1.33"/><text x="726.67" y="208" text-anchor="middle" textLength="136.67">backends/dbcheck.cc</text></g>
<g><rect x="1121.33" y="184.67" width="170.67" height="40" fill="#fff" stroke="#000" stroke-width="1.33"/><text x="1132" y="200.67" textLength="148.67">backends/honey/honey</text><text x="1206.67" y="215.33" text-anchor="middle" textLength="52.67">_table.h</text></g>
<g><rect x="1432" y="184.67" width="170.67" height="40" fill="#fff" stroke="#000" stroke-width="1.33"/><text x="1442.67" y="200.67" textLength="148.67">backends/honey/honey</text><text x="1517.33" y="215.33" text-anchor="middle" textLength="72.67">_version.cc</text></g>
<g><rect x="568" y="274" width="170.67" height="40" fill="#fff" stroke="#000" stroke-width="1.33"/><text x="578.67" y="290" textLength="148.67">backends/honey/honey</text><text x="653.33" y="304.67" text-anchor="middle" textLength="71.33">_freelist.cc</text></g>
<g><rect x="932.67" y="274" width="170.67" height="40" fill="#fff" stroke="#000" stroke-width="1.33"/><text x="943.33" y="290" textLength="148.67">backends/honey/honey</text><text x="1018" y="304.67" text-anchor="middle" textLength="82">_metadata.h</text></g>
<g><rect x="1805.33" y="274" width="170.67" height="40" fill="#fff" stroke="#000" stroke-width="1.33"/><text x="1816" y="290" textLength="148.67">backends/honey/honey</text><text x="1890.67" y="304.67" text-anchor="middle" textLength="79.33">_lazytable.h</text></g>
<g><rect x="2378" y="274" width="170.67" height="40" fill="#fff" stroke="#000" stroke-width="1.33"/><text x="2388.67" y="290" textLength="148.67">backends/honey/honey</text><text x="2463.33" y="304.67" text-anchor="middle" textLength="58">_cursor.h</text></g>
<g><rect x="984" y="363.33" width="170.67" height="40" fill="#fff" stroke="#000" stroke-width="1.33"/><text x="994.67" y="379.33" textLength="148.67">backends/honey/honey</text><text x="1069.33" y="394" text-anchor="middle" textLength="88.67">_metadata.cc</text></g>
<g><rect x="1280.67" y="363.33" width="142.67" height="40" fill="#fff" stroke="#000" stroke-width="1.33"/><text x="1291.33" y="379.33" textLength="120.67">bin/xapian-inspect</text><text x="1352" y="394" text-anchor="middle" textLength="60.67">-honey.cc</text></g>
<g><rect x="1805.33" y="363.33" width="170.67" height="40" fill="#fff" stroke="#000" stroke-width="1.33"/><text x="1816" y="379.33" textLength="148.67">backends/honey/honey</text><text x="1890.67" y="394" text-anchor="middle" textLength="91.33">_positionlist.h</text></g>
<g><rect x="2205.33" y="363.33" width="170.67" height="40" fill="#fff" stroke="#000" stroke-width="1.33"/><text x="2216" y="379.33" textLength="148.67">backends/honey/honey</text><text x="2290.67" y="394" text-anchor="middle" textLength="58">_table.cc</text></g>
<g><rect x="2744" y="363.33" width="170.67" height="40" fill="#fff" stroke="#000" stroke-width="1.33"/><text x="2754.67" y="379.33" textLength="148.67">backends/honey/honey</text><text x="2829.33" y="394" text-anchor="middle" textLength="64.67">_cursor.cc</text></g>
<g><rect x="1866.67" y="452.67" width="170.67" height="40" fill="#fff" stroke="#000" stroke-width="1.33"/><text x="1877.33" y="468.67" textLength="148.67">backends/honey/honey</text><text x="1952" y="483.33" text-anchor="middle" textLength="67.33">_postlist.h</text></g>
<g><rect x="2061.33" y="452.67" width="170.67" height="40" fill="#fff" stroke="#000" stroke-width="1.33"/><text x="2072" y="468.67" textLength="148.67">backends/honey/honey</text><text x="2146.67" y="483.33" text-anchor="middle" textLength="96.67">_positionlist.cc</text></g>
<g><rect x="2306" y="452.67" width="170.67" height="40" fill="#fff" stroke="#000" stroke-width="1.33"/><text x="2316.67" y="468.67" textLength="148.67">backends/honey/honey</text><text x="2391.33" y="483.33" text-anchor="middle" textLength="79.33">_synonym.h</text></g>
<g><rect x="546.67" y="542" width="170.67" height="40" fill="#fff" stroke="#000" stroke-width="1.33"/><text x="557.33" y="558" textLength="148.67">backends/honey/honey</text><text x="632" y="572.67" text-anchor="middle" textLength="112.67">_alldocspostlist.h</text></g>
<g><rect x="933.33" y="542" width="170.67" height="40" fill="#fff" stroke="#000" stroke-width="1.33"/><text x="944" y="558" textLength="148.67">backends/honey/honey</text><text x="1018.67" y="572.67" text-anchor="middle" textLength="70">_spelling.h</text></g>
<g><rect x="1330.67" y="542" width="170.67" height="40" fill="#fff" stroke="#000" stroke-width="1.33"/><text x="1341.33" y="558" textLength="148.67">backends/honey/honey</text><text x="1416" y="572.67" text-anchor="middle" textLength="103.33">_termlisttable.h</text></g>
<g><rect x="1576" y="542" width="170.67" height="40" fill="#fff" stroke="#000" stroke-width="1.33"/><text x="1586.67" y="558" textLength="148.67">backends/honey/honey</text><text x="1661.33" y="572.67" text-anchor="middle" textLength="100.67">_postlisttable.h</text></g>
<g><rect x="2092" y="542" width="170.67" height="40" fill="#fff" stroke="#000" stroke-width="1.33"/><text x="2102.67" y="558" textLength="148.67">backends/honey/honey</text><text x="2177.33" y="572.67" text-anchor="middle" textLength="71.33">_docdata.h</text></g>
<g><rect x="2413.33" y="542" width="170.67" height="40" fill="#fff" stroke="#000" stroke-width="1.33"/><text x="2424" y="558" textLength="148.67">backends/honey/honey</text><text x="2498.67" y="572.67" text-anchor="middle" textLength="62">_values.h</text></g>
<g><rect x="648" y="631.33" width="210.67" height="40" fill="#fff" stroke="#ff0000" stroke-width="1.33"/><text x="658.67" y="647.33" textLength="188.67">backends/prefix_compressed</text><text x="753.33" y="662" text-anchor="middle" textLength="63.33">_strings.h</text></g>
<g><rect x="984" y="631.33" width="170.67" height="40" fill="#fff" stroke="#000" stroke-width="1.33"/><text x="994.67" y="647.33" textLength="148.67">backends/honey/honey</text><text x="1069.33" y="662" text-anchor="middle" textLength="128.67">_spellingwordslist.h</text></g>
<g><rect x="1229.33" y="631.33" width="170.67" height="40" fill="#fff" stroke="#000" stroke-width="1.33"/><text x="1240" y="647.33" textLength="148.67">backends/honey/honey</text><text x="1314.67" y="662" text-anchor="middle" textLength="108.67">_termlisttable.cc</text></g>
<g><rect x="1525.33" y="631.33" width="170.67" height="40" fill="#fff" stroke="#000" stroke-width="1.33"/><text x="1536" y="647.33" textLength="148.67">backends/honey/honey</text><text x="1610.67" y="662" text-anchor="middle" textLength="79.33">_database.h</text></g>
<g><rect x="1821.33" y="631.33" width="170.67" height="40" fill="#fff" stroke="#000" stroke-width="1.33"/><text x="1832" y="647.33" textLength="148.67">backends/honey/honey</text><text x="1906.67" y="662" text-anchor="middle" textLength="75.33">_inverter.cc</text></g>
<g><rect x="2218.67" y="631.33" width="170.67" height="40" fill="#fff" stroke="#000" stroke-width="1.33"/><text x="2229.33" y="647.33" textLength="148.67">backends/honey/honey</text><text x="2304" y="662" text-anchor="middle" textLength="84.67">_document.h</text></g>
<g><rect x="2413.33" y="631.33" width="170.67" height="40" fill="#fff" stroke="#000" stroke-width="1.33"/><text x="2424" y="647.33" textLength="148.67">backends/honey/honey</text><text x="2498.67" y="662" text-anchor="middle" textLength="75.33">_valuelist.h</text></g>
<g><rect x="122.67" y="720.67" width="170.67" height="40" fill="#fff" stroke="#000" stroke-width="1.33"/><text x="133.33" y="736.67" textLength="148.67">backends/honey/honey</text><text x="208" y="751.33" text-anchor="middle" textLength="119.33">_alldocspostlist.cc</text></g>
<g><rect x="317.33" y="728" width="165.33" height="25.33" fill="#fff" stroke="#000" stroke-width="1.33"/><text x="400" y="744" text-anchor="middle" textLength="143.33">backends/dbfactory.cc</text></g>
<g><rect x="507.33" y="728" width="132" height="25.33" fill="#fff" stroke="#000" stroke-width="1.33"/><text x="573.33" y="744" text-anchor="middle" textLength="110">api/compactor.cc</text></g>
<g><rect x="664" y="720.67" width="170.67" height="40" fill="#fff" stroke="#000" stroke-width="1.33"/><text x="674.67" y="736.67" textLength="148.67">backends/honey/honey</text><text x="749.33" y="751.33" text-anchor="middle" textLength="76.67">_spelling.cc</text></g>
<g><rect x="859.33" y="720.67" width="158.67" height="40" fill="#fff" stroke="#000" stroke-width="1.33"/><text x="870" y="736.67" textLength="136.67">backends/glass/glass</text><text x="938.67" y="751.33" text-anchor="middle" textLength="80.67">_compact.cc</text></g>
<g><rect x="1093.33" y="720.67" width="170.67" height="40" fill="#fff" stroke="#000" stroke-width="1.33"/><text x="1104" y="736.67" textLength="148.67">backends/honey/honey</text><text x="1178.67" y="751.33" text-anchor="middle" textLength="106">_postlisttable.cc</text></g>
<g><rect x="1288" y="720.67" width="170.67" height="40" fill="#fff" stroke="#000" stroke-width="1.33"/><text x="1298.67" y="736.67" textLength="148.67">backends/honey/honey</text><text x="1373.33" y="751.33" text-anchor="middle" textLength="70">_termlist.h</text></g>
<g><rect x="1482.67" y="720.67" width="170.67" height="40" fill="#fff" stroke="#000" stroke-width="1.33"/><text x="1493.33" y="736.67" textLength="148.67">backends/honey/honey</text><text x="1568" y="751.33" text-anchor="middle" textLength="135.33">_spellingwordslist.cc</text></g>
<g><rect x="1829.33" y="720.67" width="170.67" height="40" fill="#fff" stroke="#000" stroke-width="1.33"/><text x="1840" y="736.67" textLength="148.67">backends/honey/honey</text><text x="1914.67" y="751.33" text-anchor="middle" textLength="72.67">_postlist.cc</text></g>
<g><rect x="2024" y="720.67" width="170.67" height="40" fill="#fff" stroke="#000" stroke-width="1.33"/><text x="2034.67" y="736.67" textLength="148.67">backends/honey/honey</text><text x="2109.33" y="751.33" text-anchor="middle" textLength="90">_document.cc</text></g>
<g><rect x="2320" y="720.67" width="170.67" height="40" fill="#fff" stroke="#000" stroke-width="1.33"/><text x="2330.67" y="736.67" textLength="148.67">backends/honey/honey</text><text x="2405.33" y="751.33" text-anchor="middle" textLength="92.67">_alltermslist.h</text></g>
<g><rect x="2514" y="720.67" width="170.67" height="40" fill="#fff" stroke="#000" stroke-width="1.33"/><text x="2524.67" y="736.67" textLength="148.67">backends/honey/honey</text><text x="2599.33" y="751.33" text-anchor="middle" textLength="80.67">_valuelist.cc</text></g>
<g><rect x="2861.33" y="720.67" width="170.67" height="40" fill="#fff" stroke="#000" stroke-width="1.33"/><text x="2872" y="736.67" textLength="148.67">backends/honey/honey</text><text x="2946.67" y="751.33" text-anchor="middle" textLength="84.67">_synonym.cc</text></g>
<g><rect x="3056" y="720.67" width="170.67" height="40" fill="#fff" stroke="#000" stroke-width="1.33"/><text x="3066.67" y="736.67" textLength="148.67">backends/honey/honey</text><text x="3141.33" y="751.33" text-anchor="middle" textLength="80.67">_compact.cc</text></g>
<g><rect x="1288" y="810" width="170.67" height="40" fill="#fff" stroke="#000" stroke-width="1.33"/><text x="1298.67" y="826" textLength="148.67">backends/honey/honey</text><text x="1373.33" y="840.67" text-anchor="middle" textLength="76.67">_termlist.cc</text></g>
<g><rect x="1656" y="810" width="170.67" height="40" fill="#fff" stroke="#000" stroke-width="1.33"/><text x="1666.67" y="826" textLength="148.67">backends/honey/honey</text><text x="1741.33" y="840.67" text-anchor="middle" textLength="84.67">_database.cc</text></g>
<g><rect x="2197.33" y="810" width="170.67" height="40" fill="#fff" stroke="#000" stroke-width="1.33"/><text x="2208" y="826" textLength="148.67">backends/honey/honey</text><text x="2282.67" y="840.67" text-anchor="middle" textLength="68.67">_values.cc</text></g>
<g><rect x="2738.67" y="810" width="170.67" height="40" fill="#fff" stroke="#000" stroke-width="1.33"/><text x="2749.33" y="826" textLength="148.67">backends/honey/honey</text><text x="2824" y="840.67" text-anchor="middle" textLength="99.33">_alltermslist.cc</text></g></g>
</svg></body></html>
